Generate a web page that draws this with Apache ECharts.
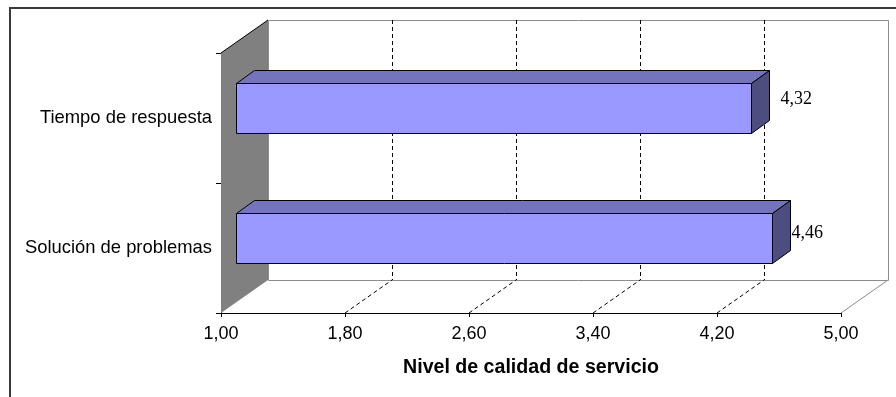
<!DOCTYPE html>
<html>
<head>
<meta charset="utf-8">
<script src="https://cdn.jsdelivr.net/npm/echarts@6/dist/echarts.min.js"></script>
<style>
html,body{margin:0;padding:0;background:#fff;}
#chart{width:896px;height:397px;}
</style>
</head>
<body>
<div id="chart"></div>
<script>
// ---- data ----
const categories = ['Tiempo de respuesta', 'Solución de problemas'];
const values = [4.32, 4.46];
const xTicks = [1.00, 1.80, 2.60, 3.40, 4.20, 5.00];
const xTitle = 'Nivel de calidad de servicio';

// ---- style constants ----
const DX = 47, DY = -33;          // depth of the 3D frame
const BAR_DX0 = 15, BAR_DY0 = -10; // bar front plane offset
const BD_X = 18, BD_Y = -13;      // bar depth
const BAR_RATIO = 0.39;
const labelDx = [29, 19];
const labelDy = [-9, -5];
const c = v => Math.round(v) + 0.5;

const fmt = v => v.toFixed(2).replace('.', ',');

function renderWalls(params, api) {
  const cs = params.coordSys;
  const x0 = cs.x, y0 = cs.y, x1 = cs.x + cs.width, y1 = cs.y + cs.height;
  const ch = [];
  ch.push({type: 'polygon', shape: {points: [[x0, y0], [x0 + DX, y0 + DY], [x0 + DX, y1 + DY], [x0, y1]]},
    style: {fill: '#808080', stroke: null}});
  ch.push({type: 'rect', shape: {x: c(x0 + DX), y: c(y0 + DY), width: Math.round(cs.width), height: Math.round(cs.height)},
    style: {fill: '#ffffff', stroke: '#8c8c8c', lineWidth: 1}});
  xTicks.slice(1, -1).forEach(t => {
    const px = api.coord([t, 0])[0];
    ch.push({type: 'line', shape: {x1: c(px + DX), y1: y0 + DY, x2: c(px + DX), y2: y1 + DY},
      style: {stroke: '#000', lineWidth: 1, lineDash: [4, 3]}});
    ch.push({type: 'line', shape: {x1: px, y1: y1, x2: px + DX, y2: y1 + DY},
      style: {stroke: '#000', lineWidth: 1, lineDash: [4, 3]}});
  });
  ch.push({type: 'line', shape: {x1: x1, y1: y1, x2: x1 + DX, y2: y1 + DY},
    style: {stroke: '#8c8c8c', lineWidth: 1}});
  ch.push({type: 'line', shape: {x1: x0, y1: y0, x2: x0 + DX, y2: y0 + DY},
    style: {stroke: '#000', lineWidth: 1}});
  return {type: 'group', children: ch};
}

function renderBar(params, api) {
  const v = api.value(0), i = api.value(1);
  const base = api.coord([xTicks[0], i]);
  const end = api.coord([v, i]);
  const band = api.size([0, 1])[1];
  const h = band * BAR_RATIO;
  const xl = Math.round(base[0] + BAR_DX0) + 0.5, xr = Math.round(end[0] + BAR_DX0) + 0.5;
  const cy = base[1] + BAR_DY0;
  const yt = Math.round(cy - h / 2) + 0.5, yb = Math.round(cy + h / 2) + 0.5;
  const edge = {stroke: '#000', lineWidth: 1, lineJoin: 'miter'};
  return {
    type: 'group',
    children: [
      {type: 'polygon', shape: {points: [[xl, yt], [xl + BD_X, yt + BD_Y], [xr + BD_X, yt + BD_Y], [xr, yt]]},
        style: Object.assign({fill: '#7474bd'}, edge)},
      {type: 'polygon', shape: {points: [[xr, yt], [xr + BD_X, yt + BD_Y], [xr + BD_X, yb + BD_Y], [xr, yb]]},
        style: Object.assign({fill: '#4d4d80'}, edge)},
      {type: 'polygon', shape: {points: [[xl, yt], [xr, yt], [xr, yb], [xl, yb]]},
        style: Object.assign({fill: '#9999ff'}, edge)},
      {type: 'text', style: {text: fmt(v), x: xr + labelDx[i], y: cy + labelDy[i],
        font: '18px "Liberation Serif"', fill: '#000',
        align: 'left', verticalAlign: 'middle', textAlign: 'left', textVerticalAlign: 'middle'}}
    ]
  };
}

const chart = echarts.init(document.getElementById('chart'), null, {renderer: 'canvas'});
chart.setOption({
  animation: false,
  backgroundColor: '#ffffff',
  grid: {left: 221, top: 53, width: 620, height: 260, containLabel: false},
  xAxis: {
    type: 'value',
    min: xTicks[0], max: xTicks[xTicks.length - 1],
    interval: 0.8,
    name: xTitle, nameLocation: 'middle', nameGap: 45,
    nameTextStyle: {fontFamily: 'Liberation Sans', fontWeight: 'bold', fontSize: 19.6, color: '#000'},
    axisLine: {show: true, lineStyle: {color: '#000', width: 1}},
    axisTick: {show: true, length: 4, lineStyle: {color: '#000'}},
    axisLabel: {show: true, formatter: fmt, fontFamily: 'Liberation Sans', fontSize: 18, color: '#000', margin: 12,
      showMinLabel: true, showMaxLabel: true, hideOverlap: false},
    splitLine: {show: false}
  },
  yAxis: {
    type: 'category', data: categories, inverse: true,
    axisLine: {show: true, lineStyle: {color: '#000', width: 1}},
    axisTick: {show: true, length: 5, alignWithLabel: false, lineStyle: {color: '#000'}},
    axisLabel: {fontFamily: 'Liberation Sans', fontSize: 18.4, color: '#000', margin: 9},
    splitLine: {show: false}
  },
  graphic: [{
    type: 'polyline', silent: true, z: 100,
    shape: {points: [[10, 397], [10, 8], [896, 8]]},
    style: {stroke: '#3a3a3a', lineWidth: 2, fill: null}
  }],
  series: [
    {type: 'custom', silent: true, data: [[xTicks[0], 0]], encode: {x: 0, y: 1}, renderItem: renderWalls, z: 1},
    {type: 'custom', silent: true, data: values.map((v, i) => [v, i]), encode: {x: 0, y: 1}, renderItem: renderBar, z: 3}
  ]
});
</script>
</body>
</html>
